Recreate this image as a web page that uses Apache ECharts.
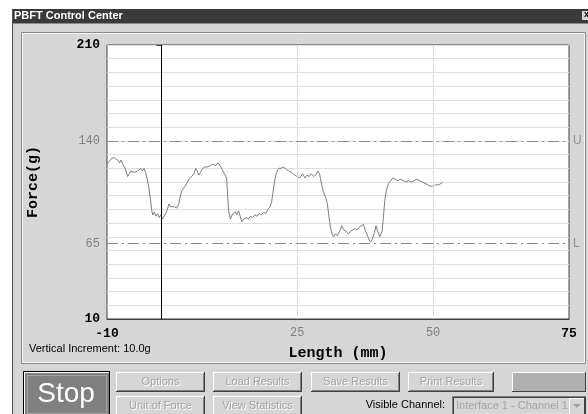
<!DOCTYPE html>
<html>
<head>
  <meta charset="utf-8">
  <script src="https://cdn.jsdelivr.net/npm/echarts@6/dist/echarts.min.js"></script>
  <style>
    html, body { margin: 0; padding: 0; background: #fff; }
  </style>
</head>
<body>
<div id="main" style="width:588px;height:414px;"></div>
<script type="text/javascript">
// trace: length (mm) / force (g)
var lengths = [
  -10, -9.6, -9.2, -8.8, -8.4, -8.0, -7.7, -7.4, -7.1, -6.8, -6.5, -6.2, -5.9, -5.6, -5.3, -5.0,
  -4.7, -4.4, -4.1, -3.8, -3.5, -3.2, -2.9, -2.6, -2.3, -2.0, -1.8, -1.6, -1.3, -1.0, -0.7, -0.4,
  -0.1, 0.2, 0.5, 0.8, 1.1, 1.4, 1.7, 2.0, 2.4, 2.8, 3.2, 3.5, 3.8, 4.1, 4.4, 4.8,
  5.2, 5.6, 6.0, 6.3, 6.6, 6.9, 7.2, 7.6, 8.0, 8.5, 9.0, 9.5, 10.0, 10.4, 10.8, 11.2,
  11.6, 12.0, 12.2, 12.4, 12.7, 13.0, 13.3, 13.6, 13.9, 14.2, 14.5, 14.8, 15.2, 15.6, 16.0, 16.4,
  16.8, 17.2, 17.6, 18.0, 18.4, 18.8, 19.2, 19.6, 20.0, 20.3, 20.6, 20.9, 21.2, 21.6, 22.0, 22.5,
  23.0, 23.5, 24.0, 24.5, 25.0, 25.5, 26.0, 26.4, 26.8, 27.2, 27.6, 28.0, 28.4, 28.8, 29.1, 29.4,
  29.8, 30.2, 30.5, 30.8, 31.1, 31.4, 31.7, 32.0, 32.4, 32.8, 33.2, 33.6, 34.0, 34.4, 34.8, 35.2,
  35.6, 36.0, 36.4, 36.8, 37.2, 37.5, 37.8, 38.2, 38.5, 38.8, 39.2, 39.5, 39.8, 40.2, 40.6, 40.8,
  41.1, 41.4, 41.8, 42.2, 42.6, 43.0, 43.5, 44.0, 44.5, 45.0, 45.5, 46.0, 46.5, 47.0, 47.5, 48.0,
  48.5, 49.0, 49.5, 50.0, 50.5, 51.0, 51.5, 51.8
];
var forces = [
  123, 125, 127, 128, 127, 126, 124, 126, 123, 121, 118, 114, 116, 118, 119, 117,
  116, 118, 119, 120, 118, 120, 117, 112, 106, 97, 90, 86, 88, 85, 87, 84,
  86, 83, 83, 87, 90, 94, 92, 91, 92, 91, 94, 100, 104, 103, 107, 110,
  113, 114, 116, 120, 118, 115, 117, 120, 121, 121, 122, 123, 122, 124, 122, 119,
  116, 113, 100, 88, 83, 86, 85, 88, 86, 89, 85, 81, 83, 84, 83, 85,
  84, 86, 85, 87, 86, 88, 87, 90, 92, 96, 104, 112, 117, 120, 120, 121,
  119, 118, 117, 115, 114, 113, 116, 113, 115, 114, 116, 114, 115, 118, 116, 110,
  103, 99, 95, 86, 77, 72, 70, 72, 71, 74, 78, 75, 74, 72, 74, 75,
  76, 75, 77, 78, 79, 75, 72, 68, 66, 68, 73, 78, 74, 70, 74, 82,
  96, 104, 109, 111, 113, 112, 111, 112, 111, 110, 111, 110, 111, 112, 111, 110,
  109, 108, 107, 107, 108, 108, 109, 110
];

var xTickLabels = [-10, 25, 50, 75];
var yTickLabels = [10, 65, 140, 210];
var xGridValues = [25, 50];
var cursorLength = 0;
var limitValues = [140, 65];
var limitTags = ['U', 'L'];

var topButtons = ['Options', 'Load Results', 'Save Results', 'Print Results'];
var bottomButtons = ['Unit of Force', 'View Statistics'];

var traceData = [];
for (var i = 0; i < lengths.length; i++) {
  traceData.push([lengths[i], forces[i]]);
}

var UI_FONT = '11px "Liberation Sans", Arial, sans-serif';
var MONO = '"Liberation Mono", "Courier New", monospace';

function txt(x, y, s, fill, font, align) {
  return {
    type: 'text', x: x, y: y, z: 1,
    style: {
      text: s, fill: fill, font: font,
      align: align || 'left', textAlign: align || 'left',
      verticalAlign: 'middle', textVerticalAlign: 'middle'
    }
  };
}
function box(x, y, w, h, fill, stroke) {
  return {
    type: 'rect', z: 0,
    shape: { x: x, y: y, width: w, height: h },
    style: { fill: fill || 'none', stroke: stroke || null, lineWidth: 1 }
  };
}
function button(x, y, w, h, label) {
  var els = [
    box(x, y, w, h, '#404040'),
    box(x, y, w - 1, h - 1, '#ffffff'),
    box(x + 1, y + 1, w - 2, h - 2, '#808080'),
    box(x + 1, y + 1, w - 3, h - 3, '#d6d6d6')
  ];
  els.push(txt(x + w / 2 + 1, y + h / 2 + 1, label, '#ffffff', UI_FONT, 'center'));
  els.push(txt(x + w / 2, y + h / 2, label, '#a4a4a4', UI_FONT, 'center'));
  return els;
}

var chrome = [];
// window body + title bar
chrome.push(box(12, 9, 576, 405, '#d6d6d6'));
chrome.push(box(12, 9, 576, 14, '#3a3a3a'));
chrome.push({ type: 'line', z: 0, shape: { x1: 12.5, y1: 9, x2: 12.5, y2: 414 }, style: { stroke: '#505050', lineWidth: 1 } });
chrome.push({ type: 'line', z: 0, shape: { x1: 13, y1: 23.5, x2: 588, y2: 23.5 }, style: { stroke: '#8a8a8a', lineWidth: 1 } });
chrome.push(txt(14, 16, 'PBFT Control Center', '#ffffff', 'bold 11px "Liberation Sans", Arial, sans-serif'));
chrome.push(box(582, 11, 8, 9, '#d6d6d6'));
chrome.push(txt(584, 15, 'x', '#000000', 'bold 9px "Liberation Sans", Arial, sans-serif'));
// etched panel around the graph
chrome.push(box(21.5, 32.5, 564, 331, 'none', '#8c8c8c'));
chrome.push(box(22.5, 33.5, 562, 329, 'none', '#f4f4f4'));
// plot background
chrome.push(box(107, 45, 462, 274, '#ffffff', '#404040'));
chrome.push(txt(29, 349, 'Vertical Increment: 10.0g', '#000000', UI_FONT));

// stop button
chrome.push(box(23, 371, 87, 44, '#000000'));
chrome.push(box(24, 372, 85, 42, '#ffffff'));
chrome.push(box(25, 373, 84, 41, '#808080'));
chrome.push({ type: 'rect', z: 0, shape: { x: 27.5, y: 375.5, width: 79, height: 38 }, style: { fill: 'none', stroke: '#c8c8c8', lineWidth: 1, lineDash: [1, 1] } });
chrome.push(txt(66, 394, 'Stop', '#ffffff', '28px "Liberation Sans", Arial, sans-serif', 'center'));

var topX = [116, 213, 311, 408];
var topW = [89, 89, 89, 86];
for (var b = 0; b < topButtons.length; b++) {
  chrome = chrome.concat(button(topX[b], 372, topW[b], 20, topButtons[b]));
}
chrome.push(box(512, 372, 74, 20, '#404040'));
chrome.push(box(512, 372, 73, 19, '#ffffff'));
chrome.push(box(513, 373, 72, 18, '#b0b0b0'));
for (var c = 0; c < bottomButtons.length; c++) {
  chrome = chrome.concat(button(topX[c], 396, 89, 20, bottomButtons[c]));
}
chrome.push(txt(445, 405, 'Visible Channel:', '#000000', UI_FONT, 'right'));
chrome.push(box(452, 396, 134, 19, '#808080'));
chrome.push(box(453, 397, 133, 18, '#404040'));
chrome.push(box(454, 398, 131, 17, '#d6d6d6'));
chrome.push(txt(456, 406, 'Interface 1 - Channel 1', '#a4a4a4', UI_FONT));
chrome = chrome.concat([
  box(569, 398, 16, 17, '#404040'),
  box(569, 398, 15, 16, '#ffffff'),
  box(570, 399, 14, 15, '#d6d6d6'),
  { type: 'polygon', z: 1, shape: { points: [[573, 404], [581, 404], [577, 408]] }, style: { fill: '#a4a4a4' } }
]);

var markLines = [];
for (var g = 0; g < xGridValues.length; g++) {
  markLines.push({ xAxis: xGridValues[g], lineStyle: { color: '#dcdcdc', type: 'solid', width: 1 }, label: { show: false } });
}
markLines.push({ xAxis: cursorLength, lineStyle: { color: '#000000', type: 'solid', width: 1 }, label: { show: false } });
for (var k = 0; k < limitValues.length; k++) {
  markLines.push({
    yAxis: limitValues[k],
    lineStyle: { color: '#8c8c8c', type: [11, 4, 2, 4], width: 1 },
    label: { show: true, position: 'end', formatter: limitTags[k], color: '#8c8c8c', fontFamily: 'Liberation Sans', fontSize: 12, distance: 4 }
  });
}

var myChart = echarts.init(document.getElementById('main'), null, { renderer: 'canvas' });
myChart.setOption({
  animation: false,
  backgroundColor: '#ffffff',
  graphic: { elements: chrome },
  grid: { left: 107, top: 45, width: 462, height: 274, show: false },
  xAxis: {
    type: 'value', min: -10, max: 75, interval: 5, z: 3,
    name: 'Length (mm)', nameLocation: 'middle', nameGap: 27,
    nameTextStyle: { fontFamily: MONO, fontWeight: 'bold', fontSize: 15, color: '#000' },
    axisLine: { show: true, lineStyle: { color: '#404040', width: 1 } },
    axisTick: { show: false },
    splitLine: { show: false },
    axisLabel: {
      customValues: xTickLabels, margin: 8,
      formatter: function (v) {
        return (v === -10 || v === 75) ? '{e|' + v + '}' : '{m|' + v + '}';
      },
      rich: {
        e: { fontFamily: MONO, fontWeight: 'bold', fontSize: 13, color: '#000' },
        m: { fontFamily: MONO, fontSize: 12, color: '#808080' }
      }
    }
  },
  yAxis: [{
    type: 'value', min: 10, max: 210, interval: 5, z: 3,
    name: 'Force(g)', nameLocation: 'middle', nameGap: 66, nameRotate: 90,
    nameTextStyle: { fontFamily: MONO, fontWeight: 'bold', fontSize: 15, color: '#000' },
    axisLine: { show: true, lineStyle: { color: '#404040', width: 1 } },
    axisTick: { show: true, customValues: [10, 210], length: 5, lineStyle: { color: '#404040' } },
    splitLine: { show: false },
    axisLabel: {
      customValues: yTickLabels, margin: 7,
      formatter: function (v) {
        return (v === 10 || v === 210) ? '{e|' + v + '}' : '{m|' + v + '}';
      },
      rich: {
        e: { fontFamily: MONO, fontWeight: 'bold', fontSize: 13, color: '#000' },
        m: { fontFamily: MONO, fontSize: 12, color: '#808080' }
      }
    }
  }, {
    type: 'value', min: 10, max: 210, interval: 10, z: 1, position: 'right',
    axisLine: { show: false }, axisTick: { show: false }, axisLabel: { show: false },
    splitLine: { show: true, lineStyle: { color: '#dedede', width: 1 } }
  }],
  series: [{
    type: 'line', z: 2, data: [], silent: true,
    markLine: { silent: true, symbol: ['none', 'none'], animation: false, data: markLines }
  }, {
    type: 'line', z: 4, data: traceData, showSymbol: false, silent: true,
    lineStyle: { color: '#7c7c7c', width: 1 }
  }]
});
</script>
</body>
</html>
